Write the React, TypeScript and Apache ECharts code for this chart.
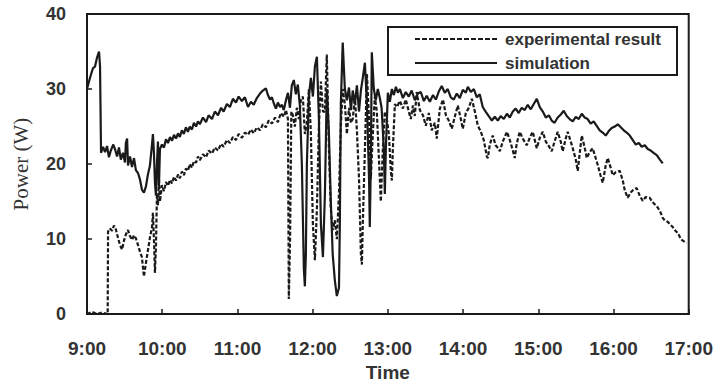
import React, { useEffect, useRef } from "react";
import * as echarts from "echarts";

// time in minutes after 9:00, power in W
const simulation: [number, number][] = [
  [0, 30], [2.4, 31.5], [4.8, 32.8], [6.4, 33], [8, 34.2], [9.6, 35], [10.4, 33], [11.2, 21.5],
  [12.8, 22.3], [14.4, 21.6], [16, 22.4], [17.5, 20.9], [19, 21.8], [21, 22.6], [22.3, 22], [24, 21],
  [25.5, 22.2], [27, 20.6], [28.7, 21.5], [30.3, 20.2], [31, 22.8], [32, 23.4], [32.7, 19.8], [34.3, 21],
  [35.9, 19.6], [37.5, 20.8], [39, 19.2], [40.7, 18.8], [42.3, 17.9], [43.8, 16.6], [45.4, 16.2], [47, 17],
  [48.6, 18.6], [50.2, 19.8], [51.8, 22.5], [52.6, 24], [53.4, 21.5], [54.2, 17.5], [55, 15.8], [55.8, 20],
  [56.6, 23], [57.4, 17], [58.2, 22], [59.8, 22.6], [61.4, 22.2], [63, 23.3], [64.6, 22.8], [66.2, 23.6],
  [67.8, 23.1], [69.4, 23.9], [71, 23.4], [72.6, 24.1], [74.1, 23.6], [75.7, 24.5], [77.3, 24], [78.9, 24.9],
  [80.5, 24.3], [82, 25], [83.7, 24.6], [85.3, 25.5], [87, 25], [88.5, 25.7], [90, 25.3], [92.5, 26.2],
  [95, 25.6], [97, 26.5], [99.7, 26], [102, 27], [104.5, 26.5], [107, 27.5], [109, 27], [111.6, 28],
  [114, 27.6], [116.4, 28.7], [118.8, 28.2], [121, 29], [123.6, 28.4], [126, 28.9], [128.4, 27.6], [130.8, 28.3],
  [133, 27.9], [135.5, 28.8], [138, 29.4], [140.3, 29.8], [142.7, 30.1], [144.3, 29.2], [146, 28.6], [147.5, 28.9],
  [149, 28.1], [150.7, 27.4], [152.3, 28.2], [154, 27.6], [155.5, 27.9], [157, 27.2], [158.7, 28.5],
  [160.3, 29.5], [161.9, 27.5], [163.4, 30.5], [165, 31.2], [166.6, 29.3], [168.2, 30.6], [169.8, 27.8],
  [171.4, 20], [173, 6], [173.8, 3.7], [174.6, 8], [175.4, 20], [177, 29], [178.6, 31.5], [180.2, 29],
  [181.8, 33], [183.4, 34.3], [185, 26], [186.6, 12], [188.2, 7.6], [189.8, 16], [191.3, 30], [193, 24],
  [194.5, 15], [196, 8], [197.7, 4.5], [199.3, 2.4], [201, 3.5], [201.7, 12], [202.5, 28], [204, 36.2],
  [205.7, 30], [207.3, 28.5], [209, 30.2], [210.5, 27.2], [212, 29.8], [213.7, 28], [215.3, 30.5], [217, 27],
  [218.5, 29.8], [220, 31.5], [221.7, 33.5], [223.3, 28], [225, 18], [225.6, 11.6], [226.4, 20], [227.2, 34.9],
  [228.8, 30], [230.4, 28.5], [232, 30], [233.6, 28.8], [235, 27.5], [236.8, 22], [237.6, 16], [238.4, 22],
  [240, 29.5], [241.6, 28.3], [243.2, 30], [244.8, 29.2], [246.4, 30.3], [248, 29.5], [249.6, 30], [252, 28.8],
  [254.3, 29.6], [256.7, 29], [259, 29.8], [261.5, 28.5], [264, 29.4], [266.3, 29.6], [268.7, 28.4], [271, 29.1],
  [273.5, 28.3], [276, 29.2], [278.3, 28.6], [280.7, 29.7], [283, 30.4], [285.4, 29.5], [287.8, 30], [290.2, 28.9],
  [292.6, 28.6], [295, 29.4], [297.4, 28.8], [299.8, 29.9], [302.2, 29.5], [303.8, 30.3], [306.2, 29.6], [308.6, 30],
  [311, 28.9], [313.3, 29.3], [315.7, 27.6], [318, 27], [320.5, 26.4], [323, 25.8], [325.3, 26.3], [327.7, 25.8],
  [330, 26.4], [332.5, 26], [335, 26.7], [337.3, 26.2], [339.7, 27], [342, 27.4], [344.4, 26.8], [346.8, 27.5],
  [349.2, 27.2], [351.6, 27.9], [354, 27.3], [356.4, 28], [358.8, 28.7], [361.2, 27.6], [363.6, 27], [366, 26.2],
  [368.4, 26.5], [370.7, 25.8], [373, 25.5], [375.5, 26.2], [378, 26.6], [380.3, 27.1], [382.7, 26.4], [385, 26],
  [387.5, 25.7], [389.9, 26.3], [392.3, 26], [394.7, 26.7], [397, 26.2], [399.4, 26], [401.8, 25.4], [404.2, 25.7],
  [406.6, 25.1], [409, 24.5], [411.4, 24.2], [413.8, 23.8], [416.2, 24.4], [418.6, 24.8], [421, 25], [423.4, 25.3],
  [425.8, 24.9], [428.2, 24.5], [430.5, 24.2], [433, 23.8], [435.4, 23.2], [437.8, 22.6], [440.2, 22.8], [442.5, 22.3],
  [445, 22.5], [447.3, 22], [449.7, 21.8], [452, 21.5], [454.5, 21.2], [457, 20.6], [459.3, 20.1],
];

const experimental: [number, number][] = [
  [0, 0], [4, 0.3], [8, 0], [12, 0.2], [16.5, 0], [16.8, 11], [18.3, 11.4], [20, 11.1], [21.5, 11.8],
  [23, 11.3], [24.7, 10.2], [26.3, 9.2], [28, 8.6], [29.5, 9.8], [31, 10.6], [32.7, 11.2], [34.3, 10.4],
  [35.9, 9.9], [37.5, 10.5], [39, 10.1], [40.7, 9.2], [42.3, 8.3], [43.8, 7.6], [45.4, 5], [47, 6.8],
  [48.6, 8.5], [50.2, 10.2], [51.8, 11.5], [52.6, 13.5], [53.4, 10], [54.2, 5.5], [55, 9], [55.8, 16],
  [56.6, 14.5], [57.4, 18], [58.2, 15], [59.8, 17.2], [61.4, 16.4], [63, 17.6], [64.6, 17.1], [66.2, 17.9],
  [67.8, 17.4], [69.4, 18.3], [71, 17.8], [72.6, 18.6], [74.1, 18.1], [75.7, 19], [77.3, 18.5], [78.9, 19.4],
  [80.5, 19.1], [82, 20], [83.7, 19.5], [85.3, 20.4], [87, 20.2], [88.5, 21], [90, 20.5], [92.5, 21.3],
  [95, 20.9], [97, 21.8], [99.7, 21.4], [102, 22.2], [104.5, 21.8], [107, 22.7], [109, 22.3], [111.6, 23.2],
  [114, 22.8], [116.4, 23.6], [118.8, 23.2], [121, 24], [123.6, 23.5], [126, 24.2], [128.4, 23.9], [130.8, 24.6],
  [133, 24.1], [135.5, 24.9], [138, 24.5], [140.3, 25.3], [142.7, 24.9], [145, 25.8], [147.5, 25.4], [150, 26.2],
  [152.3, 25.6], [154.7, 26.8], [157, 26.3], [158.7, 27.2], [160.3, 26], [161, 2], [162, 10], [163, 27],
  [164.2, 26.5], [165.8, 25], [167.4, 27.5], [169, 26], [170.6, 28.5], [172.2, 29], [173.8, 24], [175.4, 25.5],
  [177, 30], [178.6, 24], [180.2, 12], [181.8, 7.2], [183.4, 14], [185, 25], [186.6, 31], [188.2, 27],
  [189.8, 27], [191.3, 34.6], [193, 22], [194.5, 14], [196, 11.2], [197.7, 12.5], [199.3, 10], [201, 16],
  [202.5, 25], [204, 30], [205.7, 28], [207.3, 24], [209, 27.5], [210.5, 25.5], [212, 26], [213.7, 29],
  [215.3, 24.5], [217, 18], [218.5, 8], [219.3, 6.6], [220, 12], [221.7, 22], [223.3, 32], [225, 26],
  [226.4, 18], [228, 24], [229.6, 29], [231.2, 27], [232.8, 21], [234.4, 15], [236, 22], [237.6, 27],
  [239.2, 26], [240.8, 24], [242.4, 19], [243.2, 17.8], [244, 22], [245.6, 28], [247.2, 27.6], [249.6, 28.4],
  [252, 27.4], [254.3, 28.6], [256.7, 27], [258.3, 26], [260, 27.8], [261.5, 26.4], [263, 29.6], [265.5, 27.2],
  [268, 26.5], [270.3, 25.1], [272.7, 26.8], [275, 24.5], [277.5, 25.5], [279, 23.4], [281.5, 27.4], [284, 28.6],
  [286.3, 26.5], [288.6, 25.8], [291, 24.7], [293.4, 26.3], [295.8, 27.8], [298.2, 26], [299.8, 24.7], [302.2, 26.8],
  [304.6, 27.5], [307, 28.7], [309.4, 27], [311.8, 25.1], [314, 24.4], [316.5, 23.2], [319, 21], [319.8, 20.8],
  [321.3, 22.6], [323.7, 23.8], [326, 22.5], [328.5, 22], [329.3, 21.7], [331.7, 23], [335, 24.3], [337.3, 23.2],
  [339.7, 21.8], [341.2, 20.8], [342.8, 22.7], [345.2, 24.3], [347.6, 23.4], [350.8, 22.5], [353.2, 23.5], [355.6, 24.3],
  [357.2, 23.2], [358.8, 22.1], [361.2, 23.5], [363.6, 24.3], [366, 23], [368.4, 22.4], [370.7, 21.7], [373, 23],
  [375.5, 24.3], [377.9, 23], [379.5, 21.7], [381.9, 23.4], [383.5, 24.3], [385.9, 23], [387.5, 22.1], [389.9, 20.6],
  [391.5, 19.1], [393.1, 21.5], [394.7, 23.8], [397, 22.2], [398.7, 20.8], [401, 21.6], [403.4, 22.1], [405.8, 20.8],
  [407.4, 19.9], [409.8, 18.4], [411.4, 17.5], [413.8, 19.8], [415.4, 20.8], [417.8, 19.5], [419.4, 18.5], [421.8, 18.9],
  [425, 19.1], [427.4, 17.8], [429, 16.5], [431.3, 15.5], [433.7, 16.2], [436.1, 16.6], [438.5, 16.8], [440.9, 15.8],
  [443.3, 15.1], [445.7, 15.6], [448.9, 15.5], [451.3, 14.9], [453.7, 14.5], [455.3, 14.2], [457.7, 13.5], [459.3, 12.8],
  [460.9, 12.5], [463.3, 12.3], [464.9, 12], [467.3, 11.6], [468.9, 11.2], [471.3, 10.8], [472.9, 10.3], [474.5, 9.9],
  [476.9, 9.6], [478.4, 9.5],
];

const timeLabels = ["9:00", "10:00", "11:00", "12:00", "13:00", "14:00", "15:00", "16:00", "17:00"];
const seriesNames = ["experimental result", "simulation"];

export default function App() {
  const ref = useRef<HTMLDivElement>(null);
  useEffect(() => {
    if (!ref.current) return;
    const chart = echarts.init(ref.current, null, { renderer: "svg" });
    const ink = "#1a1a1a";
    const textInk = "#333";
    const font = "Liberation Sans";
    chart.setOption({
      animation: false,
      backgroundColor: "#ffffff",
      grid: {
        left: 87,
        right: 26,
        top: 14,
        bottom: 69,
        show: true,
        borderColor: ink,
        borderWidth: 2,
        backgroundColor: "transparent",
      },
      graphic: [
        {
          type: "rect",
          z: 100,
          shape: { x: 388, y: 27, width: 289, height: 48 },
          style: { fill: "#fff", stroke: ink, lineWidth: 2 },
        },
        {
          type: "line",
          z: 101,
          shape: { x1: 415, y1: 39, x2: 497, y2: 39 },
          style: { stroke: ink, lineWidth: 2, lineDash: [5, 2] },
        },
        {
          type: "line",
          z: 101,
          shape: { x1: 415, y1: 63, x2: 497, y2: 63 },
          style: { stroke: ink, lineWidth: 2 },
        },
        {
          type: "text",
          z: 101,
          x: 505,
          y: 39,
          style: { text: seriesNames[0], font: `bold 17px "${font}"`, fill: textInk, verticalAlign: "middle" },
        },
        {
          type: "text",
          z: 101,
          x: 505,
          y: 63,
          style: { text: seriesNames[1], font: `bold 17px "${font}"`, fill: textInk, verticalAlign: "middle" },
        },
      ],
      xAxis: {
        type: "value",
        min: 0,
        max: 480,
        interval: 60,
        name: "Time",
        nameLocation: "middle",
        nameGap: 45,
        nameTextStyle: { fontFamily: font, fontSize: 19, fontWeight: "bold", color: textInk },
        axisLine: { lineStyle: { color: ink, width: 2 } },
        axisTick: { inside: true, length: 5, lineStyle: { color: ink, width: 1.5 } },
        axisLabel: {
          margin: 25,
          fontFamily: font,
          fontSize: 19,
          fontWeight: "bold",
          color: textInk,
          formatter: (v: number) => timeLabels[Math.round(v / 60)] ?? "",
        },
        splitLine: { show: false },
      },
      yAxis: {
        type: "value",
        min: 0,
        max: 40,
        interval: 10,
        name: "Power (W)",
        nameLocation: "middle",
        nameGap: 56,
        nameTextStyle: { fontFamily: "Liberation Serif", fontSize: 21, color: textInk },
        axisLine: { show: true, lineStyle: { color: ink, width: 2 } },
        axisTick: { show: true, inside: true, length: 5, lineStyle: { color: ink, width: 1.5 } },
        axisLabel: { margin: 21, fontFamily: font, fontSize: 18, fontWeight: "bold", color: textInk },
        splitLine: { show: false },
      },
      series: [
        {
          name: seriesNames[0],
          type: "line",
          data: experimental,
          showSymbol: false,
          symbol: "none",
          color: ink,
          lineStyle: { color: ink, width: 2.2, type: [4, 2] },
        },
        {
          name: seriesNames[1],
          type: "line",
          data: simulation,
          showSymbol: false,
          symbol: "none",
          color: ink,
          lineStyle: { color: ink, width: 2.2, type: "solid" },
        },
      ],
    });
    return () => chart.dispose();
  }, []);
  return <div ref={ref} style={{ width: 716, height: 387, position: "absolute", left: 0, top: 0 }} />;
}
